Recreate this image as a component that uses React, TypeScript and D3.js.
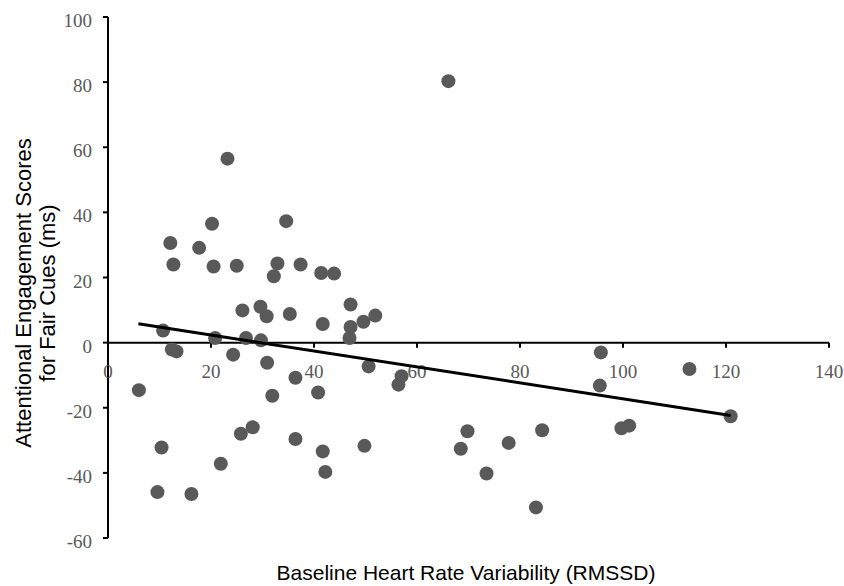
import React from "react";
import * as d3 from "d3";

const hrvX = [6.0, 9.6, 10.4, 10.7, 12.1, 12.4, 12.7, 13.3, 16.2, 17.7, 20.2, 20.5, 20.8, 21.9, 23.2, 24.3, 25.0, 25.8, 26.1, 26.8, 28.1, 29.6, 29.7, 30.8, 30.9, 31.9, 32.2, 32.9, 34.6, 35.3, 36.4, 36.4, 37.4, 40.8, 41.4, 41.7, 41.7, 42.2, 43.9, 46.9, 47.1, 47.1, 49.6, 49.8, 50.6, 51.9, 56.4, 57.0, 66.1, 68.5, 69.8, 73.5, 77.8, 83.1, 84.3, 95.5, 95.7, 99.7, 101.2, 112.9, 120.9];
const scoreY = [-14.6, -45.9, -32.2, 3.7, 30.6, -2.1, 24.0, -2.7, -46.5, 29.1, 36.5, 23.4, 1.4, -37.2, 56.5, -3.7, 23.6, -28.0, 9.9, 1.4, -26.0, 11.0, 0.7, 8.1, -6.2, -16.3, 20.4, 24.3, 37.3, 8.8, -10.8, -29.6, 24.0, -15.3, 21.4, 5.7, -33.4, -39.7, 21.2, 1.4, 11.7, 4.8, 6.4, -31.7, -7.3, 8.3, -12.9, -10.3, 80.3, -32.6, -27.2, -40.2, -30.8, -50.6, -26.9, -13.2, -3.0, -26.3, -25.5, -8.1, -22.6];
const trendX = [5.9, 120.9];
const trendY = [5.8, -22.4];
const xTicks = [0, 20, 40, 60, 80, 100, 120, 140];
const yTicks = [-60, -40, -20, 0, 20, 40, 60, 80, 100];

export default function App() {
  const x = d3.scaleLinear().domain([0, 140]).range([108, 829]);
  const y = d3.scaleLinear().domain([-60, 100]).range([538, 17]);
  const line = d3
    .line<number>()
    .x((d) => x(d))
    .y((_, i) => y(trendY[i]));
  const tickFont = "'Liberation Serif', 'Times New Roman', serif";
  const sans = "'Liberation Sans', Arial, sans-serif";
  return (
    <svg
      width={844}
      height={586}
      style={{ position: "absolute", left: 0, top: 0, background: "#fff" }}
    >
      <line x1={x(0)} x2={x(0)} y1={y(100)} y2={y(-60)} stroke="#000" strokeWidth={2} />
      {yTicks.map((t) => (
        <g key={"y" + t}>
          <line x1={x(0) - 5} x2={x(0)} y1={y(t)} y2={y(t)} stroke="#000" strokeWidth={2} />
          <text
            x={92}
            y={y(t) + 10}
            textAnchor="end"
            fontFamily={tickFont}
            fontSize={19}
            fill="#595959"
          >
            {t}
          </text>
        </g>
      ))}
      <line x1={x(0)} x2={x(140)} y1={y(0)} y2={y(0)} stroke="#000" strokeWidth={2} />
      {xTicks.map((t) => (
        <g key={"x" + t}>
          <line x1={x(t)} x2={x(t)} y1={y(0)} y2={y(0) + 5} stroke="#000" strokeWidth={2} />
          <text
            x={x(t)}
            y={y(0) + 35}
            textAnchor="middle"
            fontFamily={tickFont}
            fontSize={19}
            fill="#595959"
          >
            {t}
          </text>
        </g>
      ))}
      {hrvX.map((v, i) => (
        <circle key={i} cx={x(v)} cy={y(scoreY[i])} r={7} fill="#595959" />
      ))}
      <path d={line(trendX) || ""} fill="none" stroke="#000" strokeWidth={3} />
      <text
        x={466}
        y={580}
        textAnchor="middle"
        fontFamily={sans}
        fontSize={21}
        fill="#000"
      >
        Baseline Heart Rate Variability (RMSSD)
      </text>
      <g transform="translate(31,293) rotate(-90)">
        <text x={0} y={0} textAnchor="middle" fontFamily={sans} fontSize={22} fill="#000">
          Attentional Engagement Scores
        </text>
        <text x={0} y={24} textAnchor="middle" fontFamily={sans} fontSize={22} fill="#000">
          for Fair Cues (ms)
        </text>
      </g>
    </svg>
  );
}
